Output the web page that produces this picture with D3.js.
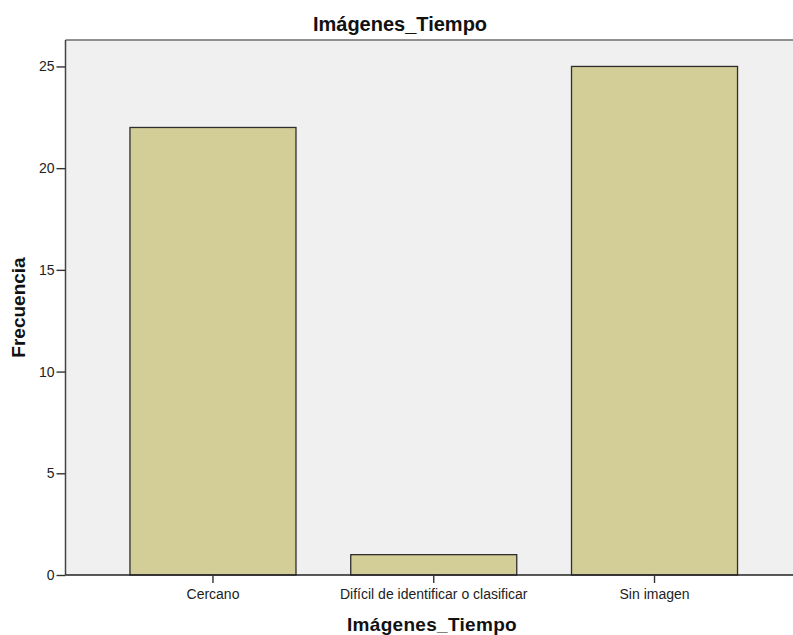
<!DOCTYPE html>
<html>
<head>
<meta charset="utf-8">
<script src="https://cdn.jsdelivr.net/npm/d3@7/dist/d3.min.js"></script>
<style>
  html, body { margin: 0; padding: 0; background: #ffffff; }
  svg { display: block; font-family: "Liberation Sans", Arial, sans-serif; }
</style>
</head>
<body>
<svg id="chart" width="793" height="635"></svg>
<script>
// Frequency counts per image category
const categories = ["Cercano", "Difícil de identificar o clasificar", "Sin imagen"];
const frequencies = [22, 1, 25];
const yTicks = [0, 5, 10, 15, 20, 25];
const chartTitle = "Imágenes_Tiempo";
const xTitle = "Imágenes_Tiempo";
const yTitle = "Frecuencia";

const svg = d3.select("#chart");

// Plot frame (extends slightly past the right edge of the canvas)
const plot = { left: 65.5, right: 802, top: 40, bottom: 575 };

const x = d3.scaleBand()
  .domain(categories)
  .range([plot.left, plot.right])
  .paddingInner(0.248)
  .paddingOuter(0.292);

const y = d3.scaleLinear()
  .domain([0, 26.3])
  .range([plot.bottom, plot.top]);

// Background panel
svg.append("rect")
  .attr("x", plot.left)
  .attr("y", plot.top)
  .attr("width", plot.right - plot.left)
  .attr("height", plot.bottom - plot.top)
  .attr("fill", "#f0f0f0");

// Top border
svg.append("line")
  .attr("x1", plot.left).attr("x2", plot.right)
  .attr("y1", plot.top).attr("y2", plot.top)
  .attr("stroke", "#6e6e6e").attr("stroke-width", 1.5);

// Bars
svg.append("g")
  .selectAll("rect")
  .data(categories.map((c, i) => ({ c, v: frequencies[i] })))
  .join("rect")
  .attr("x", d => x(d.c))
  .attr("y", d => y(d.v))
  .attr("width", x.bandwidth())
  .attr("height", d => y(0) - y(d.v))
  .attr("fill", "#d3ce97")
  .attr("stroke", "#2e2e2e")
  .attr("stroke-width", 1.3);

// Y axis
const yAxis = svg.append("g")
  .attr("transform", `translate(${plot.left},0)`)
  .call(d3.axisLeft(y).tickValues(yTicks).tickSize(9).tickPadding(2).tickFormat(d3.format("d")));
yAxis.select(".domain").attr("stroke", "#444").attr("stroke-width", 1.5)
  .attr("d", `M0,${plot.top}V${plot.bottom}`);
yAxis.selectAll(".tick line").attr("stroke", "#333").attr("stroke-width", 1.4);
yAxis.selectAll(".tick text")
  .attr("font-size", 14)
  .attr("fill", "#222")
  .attr("font-family", "'Liberation Sans', Arial, sans-serif");

// X axis
const xAxis = svg.append("g")
  .attr("transform", `translate(0,${plot.bottom})`)
  .call(d3.axisBottom(x).tickSize(8).tickPadding(6));
xAxis.select(".domain").attr("stroke", "#222").attr("stroke-width", 1.5)
  .attr("d", `M${plot.left},0H${plot.right}`);
xAxis.selectAll(".tick line").attr("stroke", "#333").attr("stroke-width", 1.4);
xAxis.selectAll(".tick text")
  .attr("font-size", 14)
  .attr("fill", "#222")
  .attr("font-family", "'Liberation Sans', Arial, sans-serif");

// Titles
svg.append("text")
  .attr("x", 400).attr("y", 31)
  .attr("text-anchor", "middle")
  .attr("font-size", 20).attr("font-weight", "bold")
  .attr("fill", "#111")
  .text(chartTitle);

svg.append("text")
  .attr("x", 432).attr("y", 631)
  .attr("text-anchor", "middle")
  .attr("font-size", 19).attr("font-weight", "bold")
  .attr("letter-spacing", 0.3)
  .attr("fill", "#111")
  .text(xTitle);

svg.append("text")
  .attr("transform", `translate(25,${(plot.top + plot.bottom) / 2}) rotate(-90)`)
  .attr("text-anchor", "middle")
  .attr("font-size", 19).attr("font-weight", "bold")
  .attr("fill", "#111")
  .text(yTitle);
</script>
</body>
</html>
